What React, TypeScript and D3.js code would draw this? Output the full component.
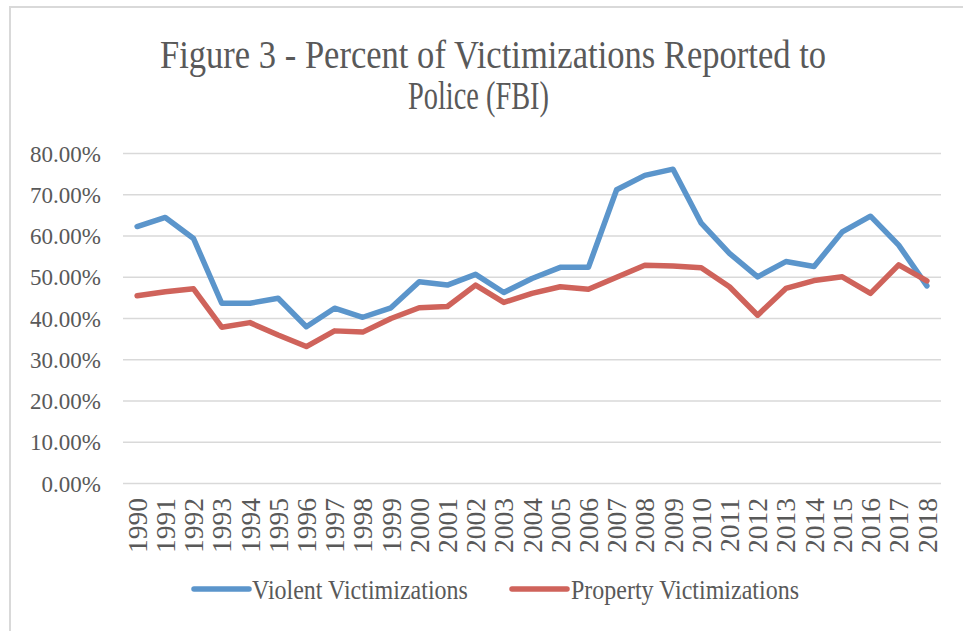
import React, { useEffect, useRef } from "react";
import * as d3 from "d3";

const years = [
  "1990","1991","1992","1993","1994","1995","1996","1997","1998","1999",
  "2000","2001","2002","2003","2004","2005","2006","2007","2008","2009",
  "2010","2011","2012","2013","2014","2015","2016","2017","2018",
];
const violent = [
  62.3, 64.5, 59.4, 43.7, 43.7, 44.9, 38.0, 42.5, 40.3, 42.6,
  48.9, 48.1, 50.7, 46.3, 49.7, 52.4, 52.4, 71.2, 74.7, 76.2,
  63.1, 55.8, 50.1, 53.8, 52.6, 61.0, 64.8, 57.8, 47.9,
];
const property = [
  45.5, 46.5, 47.2, 37.9, 39.0, 36.0, 33.2, 37.0, 36.7, 40.0,
  42.6, 42.9, 48.1, 43.9, 46.1, 47.7, 47.1, 50.0, 52.9, 52.7,
  52.3, 47.7, 40.8, 47.3, 49.2, 50.1, 46.1, 53.0, 49.1,
];
const yTicks = [0, 10, 20, 30, 40, 50, 60, 70, 80];
const seriesNames = ["Violent Victimizations", "Property Victimizations"];
const seriesColors = ["#5B95CB", "#CF635B"];
const titleLines = ["Figure 3 - Percent of Victimizations Reported to", "Police (FBI)"];

const W = 963, H = 631;
const FONT = "'Liberation Serif', 'Times New Roman', serif";
const TEXT = "#595959";

export default function App() {
  const ref = useRef<SVGSVGElement | null>(null);
  useEffect(() => {
    const svg = d3.select(ref.current);
    svg.selectAll("*").remove();
    svg.append("rect").attr("width", W).attr("height", H).attr("fill", "#fff");
    // chart area border (cropped)
    svg.append("path")
      .attr("d", `M10,${H} L10,7 L${W},7`)
      .attr("fill", "none").attr("stroke", "#d9d9d9").attr("stroke-width", 2);

    const x = d3.scaleBand<string>().domain(years).range([123, 941]).padding(0);
    const y = d3.scaleLinear().domain([0, 80]).range([483.5, 153.5]);
    const xc = (d: string) => (x(d) as number) + x.bandwidth() / 2;

    // title (condensed look: vertical stretch)
    const t = svg.append("g").attr("font-family", FONT).attr("fill", TEXT).attr("font-size", 34.5);
    t.append("text").attr("transform", "translate(160,68) scale(1,1.14)")
      .attr("textLength", 666).attr("lengthAdjust", "spacingAndGlyphs").text(titleLines[0]);
    t.append("text").attr("transform", "translate(408,109) scale(1,1.14)")
      .attr("textLength", 141).attr("lengthAdjust", "spacingAndGlyphs").text(titleLines[1]);

    // gridlines
    svg.append("g").selectAll("line").data(yTicks).join("line")
      .attr("x1", 123).attr("x2", 941)
      .attr("y1", (d) => y(d)).attr("y2", (d) => y(d))
      .attr("stroke", "#d9d9d9").attr("stroke-width", 1.6);

    // y labels
    svg.append("g").selectAll("text").data(yTicks).join("text")
      .attr("x", 101).attr("y", (d) => y(d)).attr("dy", "0.35em")
      .attr("text-anchor", "end").attr("font-family", FONT).attr("font-size", 23)
      .attr("fill", TEXT)
      .text((d) => d3.format(".2%")(d / 100));

    // x labels
    svg.append("g").selectAll("text").data(years).join("text")
      .attr("transform", (d) => `translate(${xc(d)},498) rotate(-90)`)
      .attr("dy", "0.35em")
      .attr("text-anchor", "end").attr("font-family", FONT).attr("font-size", 27.5)
      .attr("fill", TEXT)
      .text((d) => d);

    const line = d3.line<number>().x((_, i) => xc(years[i])).y((v) => y(v));
    [violent, property].forEach((s, k) => {
      svg.append("path").attr("d", line(s) as string)
        .attr("fill", "none").attr("stroke", seriesColors[k]).attr("stroke-width", 5.5)
        .attr("stroke-linejoin", "round").attr("stroke-linecap", "round");
    });

    // legend
    const lg = svg.append("g");
    const legendX = [194, 512];
    const legendTextX = [252, 571];
    seriesNames.forEach((n, k) => {
      lg.append("line").attr("x1", legendX[k]).attr("x2", legendX[k] + 55)
        .attr("y1", 589).attr("y2", 589)
        .attr("stroke", seriesColors[k]).attr("stroke-width", 5.5).attr("stroke-linecap", "round");
      lg.append("text").attr("transform", `translate(${legendTextX[k]},599) scale(1,1.12)`)
        .attr("font-family", FONT).attr("font-size", 24).attr("fill", TEXT).text(n);
    });
  }, []);
  return (
    <svg ref={ref} width={W} height={H} style={{ position: "absolute", left: 0, top: 0 }} />
  );
}
